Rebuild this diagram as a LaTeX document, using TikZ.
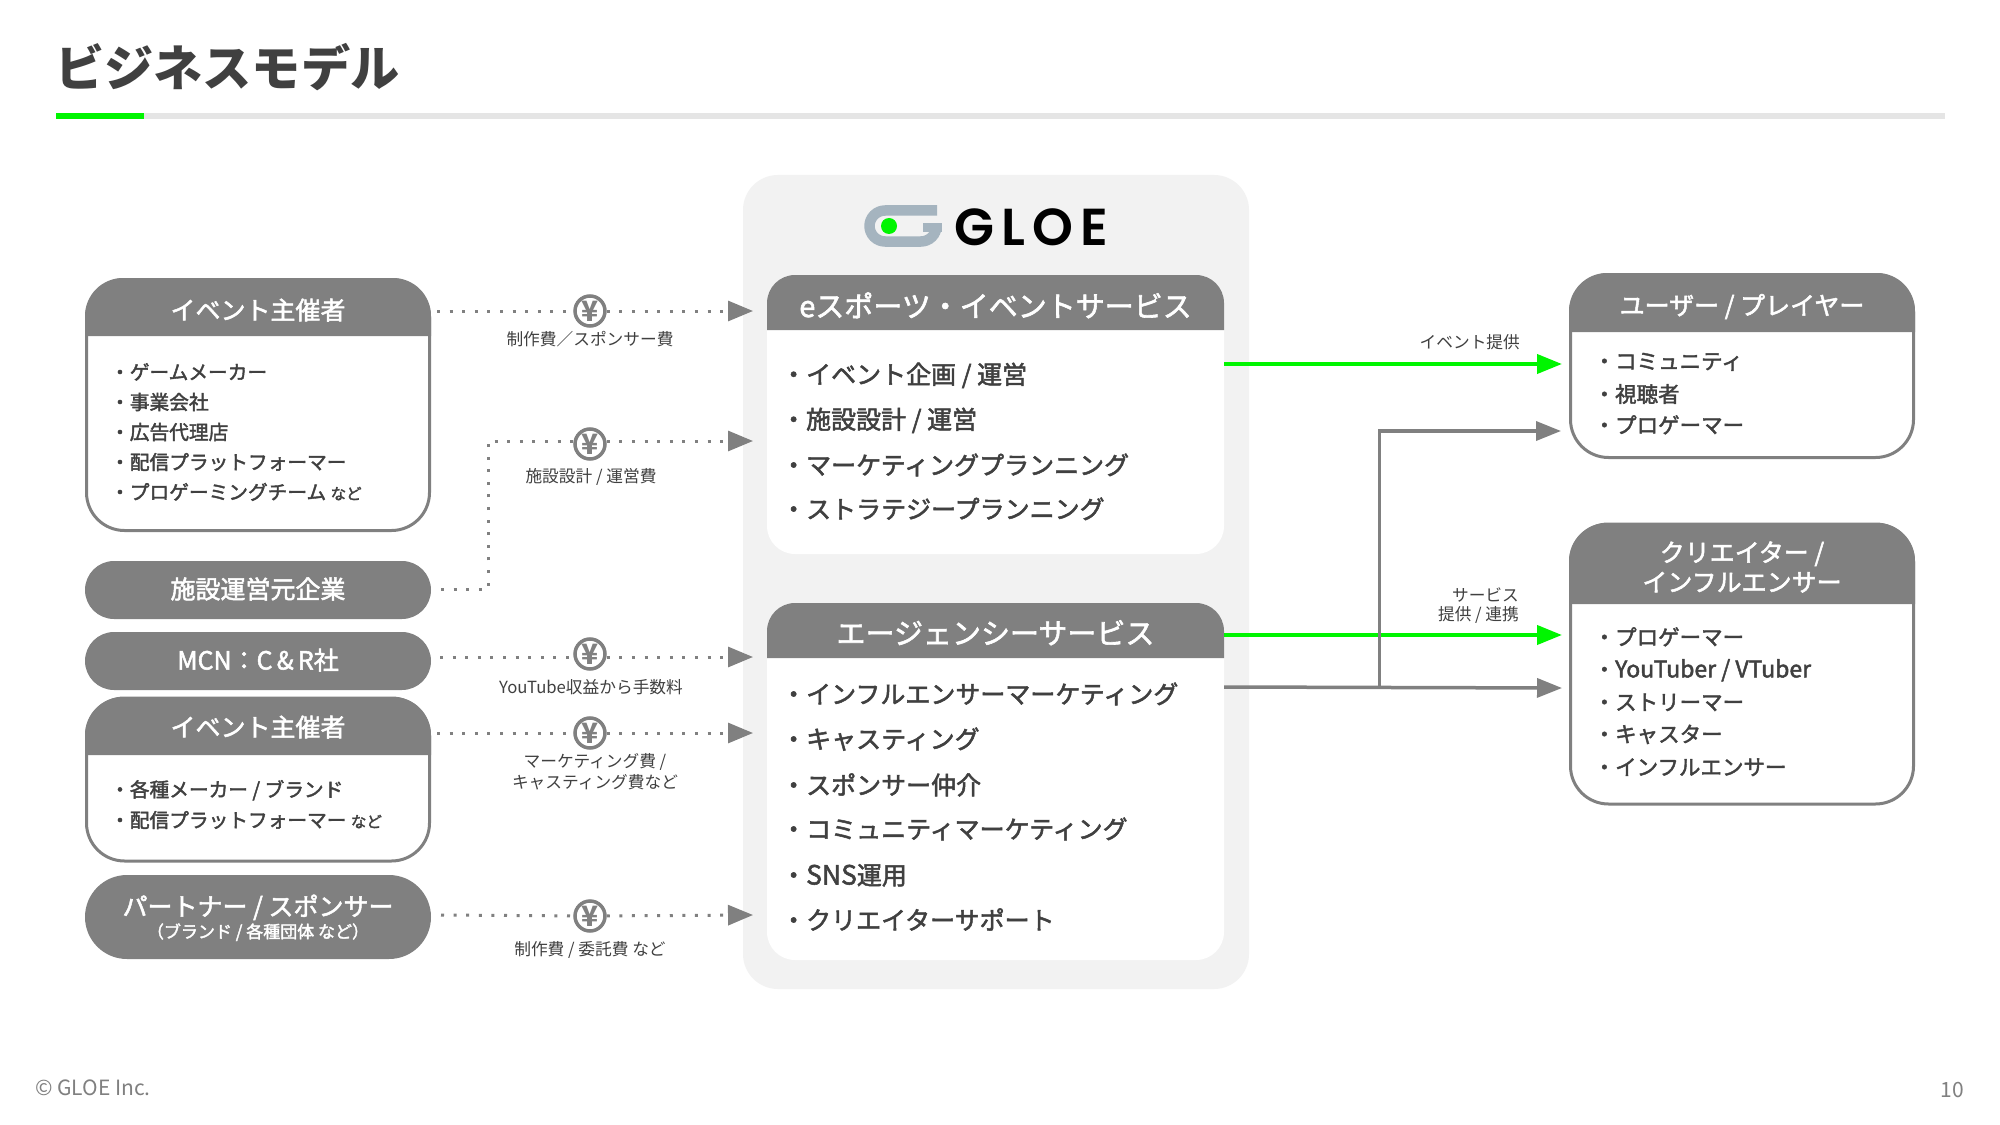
\documentclass[tikz,border=0pt]{standalone}
\usepackage{fontspec}
\usetikzlibrary{arrows.meta}
\setmainfont{Noto Sans CJK JP}
\newfontfamily\jpm{Noto Sans CJK JP}[RawFeature={embolden=2.0}]
\newfontfamily\jpl{Noto Sans CJK JP}
\newfontfamily\logof{Poppins}[BoldFont={Poppins SemiBold},LetterSpace=14]
\newcommand\fs[1]{\fontsize{\fpeval{#1*1.4226}}{\fpeval{#1*1.7}}\selectfont}
\definecolor{gry}{HTML}{808080}
\definecolor{txt}{HTML}{404040}
\definecolor{grn}{HTML}{00F500}
\definecolor{pan}{HTML}{F2F2F2}
\definecolor{lgo}{RGB}{165,180,191}
\def\px{0.05cm}
\tikzset{
 x=0.05cm,y=-0.05cm,
 lab/.style={inner sep=0,align=center,execute at begin node={\rule[-.12em]{0pt}{1em}}},
 wht/.style={lab,text=white,font=\jpm\fs{#1}},
 itm/.style={lab,anchor=west,text=txt,font=\jpm\fs{#1}},
 cap/.style={lab,text=txt,font=\jpl\fs{#1}},
 card/.style={draw=gry,line width=3*\px,fill=white,inner sep=0},
 pill/.style={fill=gry,inner sep=0,minimum width=346*\px},
 yen/.style={circle,draw=gry,line width=3.5*\px,fill=white,inner sep=0,minimum size=30*\px,text=gry,font=\bfseries\fs{28}},
 dotl/.style={draw=gry,line width=3*\px,dash pattern=on 3*\px off 9.6*\px},
 tipg/.style={-{Triangle[length=1.25cm,width=1.0cm]}},
 grn arrow/.style={draw=grn,line width=4*\px,-{Triangle[length=1.25cm,width=0.95cm]}},
 gry arrow/.style={draw=gry,line width=3.5*\px,-{Triangle[length=1.25cm,width=0.95cm]}},
}
\begin{document}
\begin{tikzpicture}
\useasboundingbox (0,0) rectangle (2000,1125);
\fill[white] (0,0) rectangle (2000,1125);
% title
\node[lab,anchor=west,text=txt,font=\bfseries\fs{49.2}] (title) at (55,68) {ビジネスモデル};
\fill[black!10] (56,113) rectangle (1945,119);
\fill[grn] (56,113) rectangle (144,119);
% centre panel
\node[fill=pan,inner sep=0,rounded corners=1.75cm,minimum width=506*\px,minimum height=814*\px] (panel) at (996,582) {};
% logo
\draw[draw=lgo,line width=10.5*\px,rounded corners=0.78cm]
 (937,210.5) -- (869.5,210.5) -- (869.5,241.5) -- (936.5,241.5) -- (936.5,225);
\fill[lgo] (923,223) rectangle (942,232);
\fill[grn] (889,226) circle (8);
\node[lab,anchor=west,text=black,font=\logof\bfseries\fs{52}] (logotext) at (954,226) {GLOE};
% eSports card
\node[fill=white,inner sep=0,rounded corners=1.4cm,minimum width=457*\px,minimum height=279*\px] (svcA) at (995.5,414.5) {};
\fill[gry] (767,330) [rounded corners=1.4cm] -- (767,275) -- (1224,275) [sharp corners] -- (1224,330) -- cycle;
\node[wht=29] (svcAh) at (995.5,306) {eスポーツ・イベントサービス};
\node[itm=25] (a1) at (781,375) {・イベント企画 / 運営};
\node[itm=25] (a2) at (781,420) {・施設設計 / 運営};
\node[itm=25] (a3) at (781,465) {・マーケティングプランニング};
\node[itm=25] (a4) at (781,509) {・ストラテジープランニング};
% agency card
\node[fill=white,inner sep=0,rounded corners=1.4cm,minimum width=457*\px,minimum height=357*\px] (svcB) at (995.5,781.5) {};
\fill[gry] (767,658) [rounded corners=1.4cm] -- (767,603) -- (1224,603) [sharp corners] -- (1224,658) -- cycle;
\node[wht=29] (svcBh) at (995.5,633) {エージェンシーサービス};
\node[itm=25] (b1) at (781,694) {・インフルエンサーマーケティング};
\node[itm=25] (b2) at (781,739) {・キャスティング};
\node[itm=25] (b3) at (781,785) {・スポンサー仲介};
\node[itm=25] (b4) at (781,829) {・コミュニティマーケティング};
\node[itm=25] (b5) at (781,875) {・{\fs{26.5}SNS}運用};
\node[itm=25] (b6) at (781,920) {・クリエイターサポート};
% left column
\node[card,rounded corners=1.9cm,minimum width=343*\px,minimum height=251*\px] (org) at (258,405) {};
\fill[gry] (85,336) [rounded corners=1.9cm] -- (85,278) -- (431,278) [sharp corners] -- (431,336) -- cycle;
\node[wht=25] (orgh) at (258,310) {イベント主催者};
\node[itm=19.7] (o1) at (110,372) {・ゲームメーカー};
\node[itm=19.7] (o2) at (110,402) {・事業会社};
\node[itm=19.7] (o3) at (110,432) {・広告代理店};
\node[itm=19.7] (o4) at (110,462) {・配信プラットフォーマー};
\node[itm=19.7] (o5) at (110,492) {・プロゲーミングチーム {\fs{15.5}など}};
\node[pill,rounded corners=1.45cm,minimum height=58*\px] (fac) at (258,590) {};
\node[wht=25] (fact) at (258,589) {施設運営元企業};
\node[pill,rounded corners=1.45cm,minimum height=58*\px] (mcn) at (258,661) {};
\node[wht=25] (mcnt) at (258,660) {MCN：C\,\&\,R社};
\node[card,rounded corners=1.9cm,minimum width=343*\px,minimum height=163*\px] (org2) at (258,779.5) {};
\fill[gry] (85,755) [rounded corners=1.9cm] -- (85,697) -- (431,697) [sharp corners] -- (431,755) -- cycle;
\node[wht=25] (org2h) at (258,727) {イベント主催者};
\node[itm=19.7] (p1) at (110,790) {・各種メーカー / ブランド};
\node[itm=19.7] (p2) at (110,820) {・配信プラットフォーマー {\fs{15.5}など}};
\node[pill,rounded corners=2.1cm,minimum height=84*\px] (par) at (258,917) {};
\node[wht=25] (part) at (258,907) {パートナー / スポンサー};
\node[wht=17] (pars) at (258,932) {（ブランド / 各種団体 など）};
% right column
\node[card,rounded corners=1.9cm,minimum width=343*\px,minimum height=183*\px] (usr) at (1742,366) {};
\fill[gry] (1569,332) [rounded corners=1.9cm] -- (1569,273) -- (1915,273) [sharp corners] -- (1915,332) -- cycle;
\node[wht=25] (usrh) at (1742,306) {ユーザー / プレイヤー};
\node[itm=21.5] (u1) at (1593.5,361) {・コミュニティ};
\node[itm=21.5] (u2) at (1593.5,394) {・視聴者};
\node[itm=21.5] (u3) at (1593.5,425) {・プロゲーマー};
\node[card,rounded corners=1.9cm,minimum width=343*\px,minimum height=280*\px] (cre) at (1742,664) {};
\fill[gry] (1569,604) [rounded corners=1.9cm] -- (1569,523) -- (1915,523) [sharp corners] -- (1915,604) -- cycle;
\node[wht=25] (creh1) at (1742,553) {クリエイター /};
\node[wht=25] (creh2) at (1742,582) {インフルエンサー};
\node[itm=21.5] (c1) at (1593.5,637) {・プロゲーマー};
\node[itm=21.5] (c2) at (1593.5,670) {・{\fs{23}YouTuber / VTuber}};
\node[itm=21.5] (c3) at (1593.5,702) {・ストリーマー};
\node[itm=21.5] (c4) at (1593.5,734) {・キャスター};
\node[itm=21.5] (c5) at (1593.5,767) {・インフルエンサー};
% yen nodes
\node[yen] (y1) at (590,311) {¥};
\node[yen] (y2) at (590,444) {¥};
\node[yen] (y3) at (590,654) {¥};
\node[yen] (y4) at (590,733) {¥};
\node[yen] (y5) at (590,916) {¥};
% money connectors
\coordinate (s1) at (437,311); \coordinate (e1) at (753,311);
\coordinate (s2) at (441,589); \coordinate (k2a) at (488,589); \coordinate (k2b) at (488,441); \coordinate (e2) at (753,441);
\coordinate (s3) at (440,657); \coordinate (e3) at (753,657);
\coordinate (s4) at (437,733); \coordinate (e4) at (753,733);
\coordinate (s5) at (441,915); \coordinate (e5) at (753,915);
\draw[dotl] (s1) -- (y1);
\draw[dotl,tipg] (y1) -- (e1);
\draw[dotl] (s2) -- (k2a) -- (k2b) -- (y2.west |- k2b);
\draw[dotl,tipg] (y2.east |- e2) -- (e2);
\draw[dotl] (s3) -- (y3.west |- s3);
\draw[dotl,tipg] (y3.east |- e3) -- (e3);
\draw[dotl] (s4) -- (y4);
\draw[dotl,tipg] (y4) -- (e4);
\draw[dotl] (s5) -- (y5);
\draw[dotl,tipg] (y5) -- (e5);
\node[cap=16.7] (l1) at (590,339) {制作費／スポンサー費};
\node[cap=16.7] (l2) at (591,477) {施設設計 / 運営費};
\node[cap=16.7] (l3) at (591,687) {YouTube収益から手数料};
\node[cap=16.7] (l4a) at (595,762) {マーケティング費 /};
\node[cap=16.7] (l4b) at (595,782) {キャスティング費など};
\node[cap=16.7] (l5) at (590,950) {制作費 / 委託費 など};
% service connectors
\coordinate (g1s) at (1224,364); \coordinate (g1e) at (1562,364);
\coordinate (g2s) at (1224,635); \coordinate (g2e) at (1562,635);
\coordinate (g3s) at (1224,687); \coordinate (g3e) at (1562,688);
\coordinate (jn) at (1379.5,688); \coordinate (kn) at (1379.5,431); \coordinate (g4e) at (1561,431);
\draw[grn arrow] (g1s) -- (g1e);
\draw[grn arrow] (g2s) -- (g2e);
\draw[gry arrow] (jn) -- (kn) -- (g4e);
\draw[gry arrow] (g3s) -- (g3e);
\node[lab,anchor=east,text=txt,font=\jpl\fs{16.7}] (r1) at (1520,342) {イベント提供};
\node[lab,anchor=east,text=txt,font=\jpl\fs{16.7}] (r2a) at (1519,595) {サービス};
\node[lab,anchor=east,text=txt,font=\jpl\fs{16.7}] (r2b) at (1519,615) {提供 / 連携};
% footer
\node[lab,anchor=west,text=gry,font=\jpl\fs{21}] (copy) at (35,1088) {© GLOE Inc.};
\node[lab,anchor=east,text=gry,font=\jpl\fs{21}] (page) at (1964,1090) {10};
\end{tikzpicture}
\end{document}
